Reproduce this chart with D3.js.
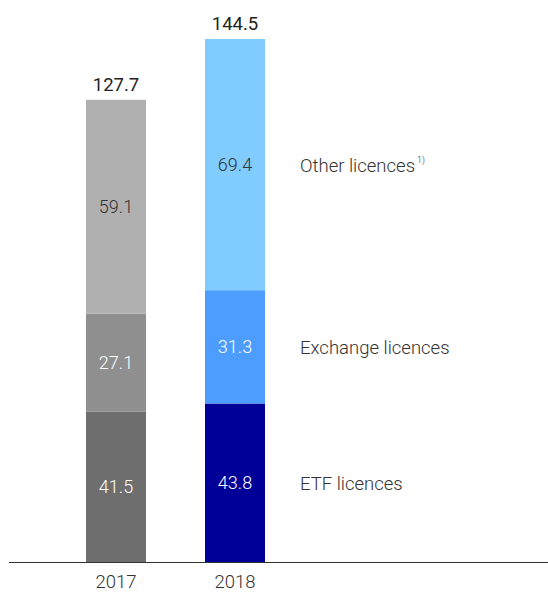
<!DOCTYPE html>
<html><head><meta charset="utf-8">
<script src="https://cdn.jsdelivr.net/npm/d3@7"></script>
<style>body{margin:0;background:#fff}svg{display:block}</style>
</head><body>
<svg id="c" width="548" height="592"></svg>
<script>
const years = ["2017", "2018"];
const series = ["ETF licences", "Exchange licences", "Other licences"];
const etf = [41.5, 43.8];
const exchange = [27.1, 31.3];
const other = [59.1, 69.4];
const totals = [127.7, 144.5];
const colors2017 = ["#6e6e6e", "#8f8f8f", "#b0b0b0"];
const colors2018 = ["#000099", "#4d9dff", "#80ccff"];
const textColors = ["#ffffff", "#ffffff", "#333333"];

const svg = d3.select("#c");
const font = "Roboto, sans-serif";
const baseY = 562, topY = 39;
const y = d3.scaleLinear().domain([0, 144.5]).range([baseY, topY]);
const bw = 60;
const xs = d3.scaleOrdinal().domain(years).range([86, 205]);

const data = years.map((yr, i) => ({year: yr, vals: [etf[i], exchange[i], other[i]], total: totals[i], colors: i === 0 ? colors2017 : colors2018}));
const stack = d3.stack().keys([0,1,2]).value((d, k) => d.vals[k]);
const stacked = stack(data);

stacked.forEach((layer, k) => {
  layer.forEach((seg, i) => {
    const d = data[i];
    svg.append("rect").attr("x", xs(d.year)).attr("width", bw)
      .attr("y", y(seg[1])).attr("height", y(seg[0]) - y(seg[1]))
      .attr("fill", d.colors[k]);
    svg.append("text").attr("x", xs(d.year) + bw/2).attr("y", (y(seg[0]) + y(seg[1]))/2)
      .attr("dy", "0.36em").attr("text-anchor", "middle")
      .attr("font-family", font).attr("font-size", 18).attr("font-weight", 300)
      .attr("fill", textColors[k]).text(d.vals[k].toFixed(1));
  });
});

data.forEach(d => {
  svg.append("text").attr("x", xs(d.year) + bw/2).attr("y", y(d.total) - 9)
    .attr("text-anchor", "middle").attr("font-family", font).attr("font-size", 18.5)
    .attr("font-weight", 400).attr("fill", "#222").text(d.total.toFixed(1));
});

stacked.forEach((layer, k) => {
  const seg = layer[1];
  const t = svg.append("text").attr("x", 300).attr("y", (y(seg[0]) + y(seg[1]))/2)
    .attr("dy", "0.38em").attr("font-family", font).attr("font-size", 18.5)
    .attr("font-weight", 300).attr("fill", "#333").text(series[k]);
  if (k === 2) t.append("tspan").attr("font-size", 9).attr("dy", "-0.95em").attr("dx", 2).text("1)");
});

svg.append("line").attr("x1", 9).attr("x2", 548).attr("y1", baseY + 0.5).attr("y2", baseY + 0.5)
  .attr("stroke", "#333").attr("stroke-width", 1);

svg.selectAll(".yr").data(years).enter().append("text")
  .attr("x", d => xs(d) + bw/2).attr("y", 588).attr("text-anchor", "middle")
  .attr("font-family", font).attr("font-size", 18.5).attr("font-weight", 300).attr("fill", "#333").text(d => d);
</script>
</body></html>
